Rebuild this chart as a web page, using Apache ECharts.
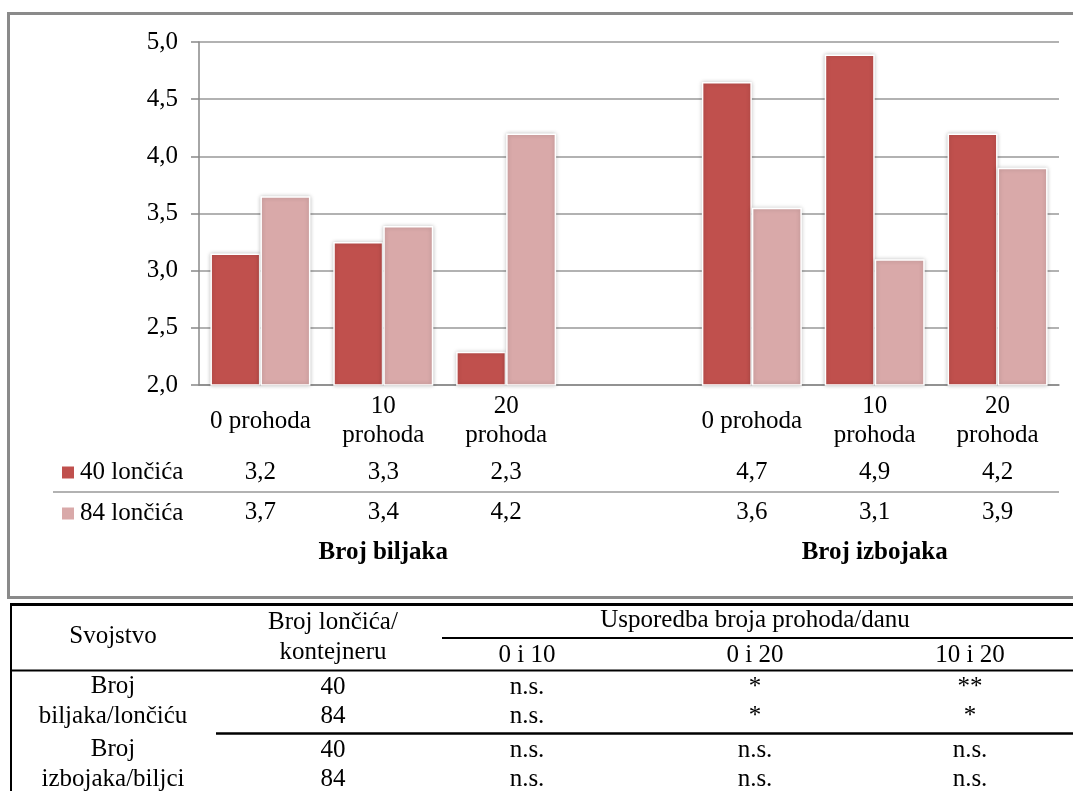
<!DOCTYPE html>
<html><head><meta charset="utf-8">
<script src="https://cdn.jsdelivr.net/npm/echarts@6/dist/echarts.min.js"></script>
<style>html,body{margin:0;padding:0;background:#fff;overflow:hidden;} #c{width:1073px;height:791px;}</style>
</head><body><div id="c"></div>
<script>
// ---- chart data ----
const categories = ['0 prohoda', '10\nprohoda', '20\nprohoda', '', '0 prohoda', '10\nprohoda', '20\nprohoda'];
const groupLabels = ['', 'Broj biljaka', '', '', '', 'Broj izbojaka', ''];
const seriesNames = ['40 lončića', '84 lončića'];
const values40 = [3.15, 3.25, 2.29, null, 4.65, 4.89, 4.2];
const values84 = [3.65, 3.39, 4.2, null, 3.55, 3.1, 3.9];
const table40 = ['3,2', '3,3', '2,3', '', '4,7', '4,9', '4,2'];
const table84 = ['3,7', '3,4', '4,2', '', '3,6', '3,1', '3,9'];
const yMin = 2, yMax = 5, yStep = 0.5;

// ---- comparison table data ----
const compHead = ['Svojstvo', 'Broj lončića/\nkontejneru', 'Usporedba broja prohoda/danu'];
const compSubHead = ['0 i 10', '0 i 20', '10 i 20'];
const compProps = ['Broj\nbiljaka/lončiću', 'Broj\nizbojaka/biljci'];
const compPots = ['40', '84'];
const compResults = [
  [['n.s.', '*', '**'], ['n.s.', '*', '*']],
  [['n.s.', 'n.s.', 'n.s.'], ['n.s.', 'n.s.', 'n.s.']]
];

const FONT = '"Liberation Serif", "Times New Roman", serif';
const RED = '#C0504D', PINK = '#D9A9A9';
const FS = 25;

const chart = echarts.init(document.getElementById('c'));

function lbl(extra) {
  return Object.assign({ interval: 0, fontFamily: FONT, fontSize: FS, color: '#000', verticalAlign: 'middle', lineHeight: 29 }, extra);
}
function txt(text, x, y, extra) {
  return { type: 'text', x: x, y: y, silent: true,
    style: Object.assign({ text: text, font: '25px ' + FONT, fill: '#000', textAlign: 'center', textVerticalAlign: 'middle', lineHeight: 29.5 }, extra || {}) };
}
function line(x1, y1, x2, y2, color, w) {
  return { type: 'line', silent: true, shape: { x1: x1, y1: y1, x2: x2, y2: y2 }, style: { stroke: color, lineWidth: w } };
}

// table layout
const colX = [113, 333, 527, 755, 970];
const graphics = [
  { type: 'rect', silent: true, shape: { x: 8.5, y: 13.5, width: 1080, height: 584 }, style: { fill: 'none', stroke: '#8a8a8a', lineWidth: 3 } },
  line(53, 492, 1059, 492, '#999', 1.5),
  // comparison table lines
  line(10, 604.5, 1073, 604.5, '#000', 3),
  line(11, 603, 11, 791, '#000', 2),
  line(442, 638, 1073, 638, '#000', 2),
  line(10, 670.5, 1073, 670.5, '#000', 2),
  line(216, 733.5, 1073, 733.5, '#000', 2.5),
  txt(compHead[0], colX[0], 636),
  txt(compHead[1], colX[1], 637.5),
  txt(compHead[2], colX[3], 620)
];
compSubHead.forEach((s, i) => graphics.push(txt(s, colX[2 + i], 655)));
const rowY = [[687, 716], [750, 779]];
compProps.forEach((p, g) => {
  graphics.push(txt(p, colX[0], (rowY[g][0] + rowY[g][1]) / 2));
  compPots.forEach((pot, r) => {
    graphics.push(txt(pot, colX[1], rowY[g][r]));
    compResults[g][r].forEach((v, c) => graphics.push(txt(v, colX[2 + c], rowY[g][r])));
  });
});

const barStyle = (c) => ({ color: c, borderColor: '#fff', borderWidth: 1.5, shadowColor: 'rgba(0,0,0,0.22)', shadowBlur: 4 });

chart.setOption({
  animation: false,
  backgroundColor: '#fff',
  grid: { left: 199, right: 14, top: 42, bottom: 406, containLabel: false },
  legend: {
    orient: 'vertical', left: 62, top: 460, padding: 0, itemWidth: 12, itemHeight: 12, itemGap: 16, icon: 'rect',
    data: seriesNames,
    itemStyle: { borderWidth: 0, shadowBlur: 0 },
    textStyle: { fontFamily: FONT, fontSize: FS, color: '#000', lineHeight: 24, padding: [0, 0, 0, 1] }
  },
  xAxis: [
    { type: 'category', data: categories, position: 'bottom',
      axisLine: { lineStyle: { color: '#888', width: 1.5 } }, axisTick: { show: false },
      axisLabel: lbl({ margin: 36 }) },
    { type: 'category', data: table40, position: 'bottom',
      axisLine: { show: false }, axisTick: { show: false }, splitLine: { show: false },
      axisLabel: lbl({ margin: 87 }) },
    { type: 'category', data: table84, position: 'bottom',
      axisLine: { show: false }, axisTick: { show: false }, splitLine: { show: false },
      axisLabel: lbl({ margin: 127 }) },
    { type: 'category', data: groupLabels, position: 'bottom',
      axisLine: { show: false }, axisTick: { show: false }, splitLine: { show: false },
      axisLabel: lbl({ margin: 168, fontWeight: 'bold' }) }
  ],
  yAxis: {
    type: 'value', min: yMin, max: yMax, interval: yStep,
    axisLine: { show: true, lineStyle: { color: '#888', width: 1.5 } },
    axisTick: { show: true, length: 8, lineStyle: { color: '#888', width: 1.5 } },
    splitLine: { lineStyle: { color: '#999', width: 1.5 } },
    axisLabel: { margin: 21, fontFamily: FONT, fontSize: FS, color: '#000',
      formatter: (v) => v.toFixed(1).replace('.', ',') }
  },
  series: [
    { type: 'bar', name: seriesNames[0], xAxisIndex: 0, data: values40, barWidth: 50, barGap: '0%', itemStyle: barStyle(RED) },
    { type: 'bar', name: seriesNames[1], xAxisIndex: 0, data: values84, barWidth: 50, barGap: '0%', itemStyle: barStyle(PINK) }
  ],
  graphic: graphics
});
</script>
</body></html>
